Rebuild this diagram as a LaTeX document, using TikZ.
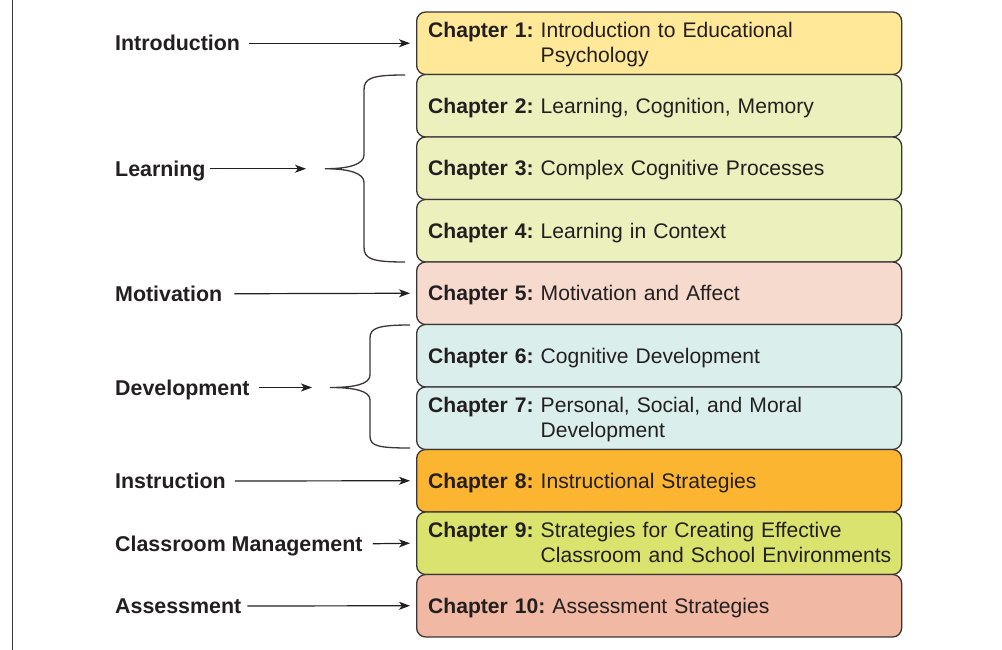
\documentclass[tikz,border=0pt]{standalone}
\usepackage{fontspec}
\setmainfont{Liberation Sans}
\usetikzlibrary{arrows.meta}
\definecolor{ink}{HTML}{231F20}
\definecolor{edge}{HTML}{3A3536}
\definecolor{cIntro}{HTML}{FFE897}
\definecolor{cLearn}{HTML}{EBF0BD}
\definecolor{cMotiv}{HTML}{F6DACE}
\definecolor{cDevel}{HTML}{DAEEEB}
\definecolor{cInstr}{HTML}{FBB531}
\definecolor{cClass}{HTML}{D9E36D}
\definecolor{cAssess}{HTML}{F1B8A3}
\frenchspacing
\begin{document}
\begin{tikzpicture}[x=1pt,y=-1pt,
  font=\fontsize{21.1}{25}\selectfont\frenchspacing, text=ink,
  chbox/.style={draw=edge, line width=1.3pt, rounded corners=9pt,
    minimum width=485pt, minimum height=62.5pt, text width=462pt,
    inner xsep=11.5pt, inner ysep=0pt, align=left, anchor=west},
  oneline/.style={text height=20pt, text depth=5pt},
  twoline/.style={text height=20pt, text depth=32pt},
  lab/.style={anchor=west, inner sep=0pt, font=\fontsize{21.4}{25}\selectfont\bfseries,
    text height=15.5pt, text depth=0pt},
  arr/.style={draw=ink, line width=1.2pt, -{Stealth[length=11pt,width=8pt,inset=3pt]}},
  brace/.style={draw=edge, line width=1.3pt}]
\useasboundingbox (0,0) rectangle (1002,650);

% margin rule
\draw[line width=1.5pt, edge] (12.5,0) -- (12.5,650);

% chapter boxes
\node[chbox, twoline, fill=cIntro] (ch1) at (416,43.25) {\textbf{Chapter 1:} \begin{tabular}[t]{@{}l@{}}Introduction to Educational\\Psychology\end{tabular}};
\node[chbox, oneline, fill=cLearn] (ch2) at (416,105.75) {\textbf{Chapter 2:} Learning, Cognition, Memory};
\node[chbox, oneline, fill=cLearn] (ch3) at (416,168.25) {\textbf{Chapter 3:} Complex Cognitive Processes};
\node[chbox, oneline, fill=cLearn] (ch4) at (416,230.75) {\textbf{Chapter 4:} Learning in Context};
\node[chbox, oneline, fill=cMotiv] (ch5) at (416,293.25) {\textbf{Chapter 5:} Motivation and Affect};
\node[chbox, oneline, fill=cDevel] (ch6) at (416,355.75) {\textbf{Chapter 6:} Cognitive Development};
\node[chbox, twoline, fill=cDevel] (ch7) at (416,418.25) {\textbf{Chapter 7:} \begin{tabular}[t]{@{}l@{}}Personal, Social, and Moral\\Development\end{tabular}};
\node[chbox, oneline, fill=cInstr] (ch8) at (416,480.75) {\textbf{Chapter 8:} Instructional Strategies};
\node[chbox, twoline, fill=cClass] (ch9) at (416,543.25) {\textbf{Chapter 9:} \begin{tabular}[t]{@{}l@{}}Strategies for Creating Effective\\Classroom and School Environments\end{tabular}};
\node[chbox, oneline, fill=cAssess] (ch10) at (416,605.75) {\textbf{Chapter 10:} Assessment Strategies};

% part labels
\node[lab] (lIntro) at (115,43.25) {Introduction};
\node[lab] (lLearn) at (115,168.75) {Learning};
\node[lab] (lMotiv) at (115,293.75) {Motivation};
\node[lab] (lDevel) at (115,387.5) {Development};
\node[lab] (lInstr) at (115,481) {Instruction};
\node[lab] (lClass) at (115,543.75) {Classroom Management};
\node[lab] (lAssess) at (115,606) {Assessment};

% brace tips
\coordinate (bLtip) at (325,168.75);
\coordinate (bDtip) at (330,387.5);

% braces
\draw[brace] (405,75) .. controls (372,75) and (364,78) .. (364,90)
  -- (364,155) .. controls (364,164) and (350,168.75) .. (bLtip)
  .. controls (350,168.75) and (364,173.5) .. (364,182.5)
  -- (364,247) .. controls (364,259) and (372,262) .. (405,262);
\draw[brace] (410,325) .. controls (378,325) and (370,328) .. (370,338)
  -- (370,375) .. controls (370,384) and (355,387.5) .. (bDtip)
  .. controls (355,387.5) and (370,391) .. (370,400)
  -- (370,436) .. controls (370,446) and (378,448) .. (410,448);

% arrows
\draw[arr] ([xshift=9pt]lIntro.east) -- ([xshift=-6pt]ch1.west);
\draw[arr] ([xshift=4pt]lLearn.east) -- ([xshift=-19pt]bLtip);
\draw[arr] ([xshift=12pt]lMotiv.east) -- ([xshift=-6pt]ch5.west);
\draw[arr] ([xshift=9pt]lDevel.east) -- ([xshift=-18pt]bDtip);
\draw[arr] ([xshift=9pt]lInstr.east) -- ([xshift=-6pt]ch8.west);
\draw[arr] ([xshift=10pt]lClass.east) -- ([xshift=-6pt]ch9.west);
\draw[arr] ([xshift=6pt]lAssess.east) -- ([xshift=-6pt]ch10.west);
\end{tikzpicture}
\end{document}
